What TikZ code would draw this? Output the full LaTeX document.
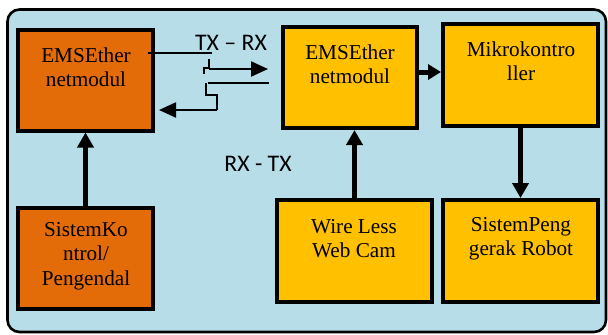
\documentclass[tikz,border=0pt]{standalone}
\usepackage{fontspec}
\setmainfont{Liberation Serif}
\newfontfamily\calibri{Carlito}
\usetikzlibrary{arrows.meta}
\definecolor{panelblue}{HTML}{B7DDE8}
\definecolor{darkorange}{HTML}{E36C09}
\definecolor{ambercol}{HTML}{FFC000}
\tikzset{
    modbox/.style={draw=black, line width=2pt, inner sep=0pt, minimum width=67.5pt, minimum height=50.5pt},
    widebox/.style={modbox, minimum width=77.5pt, minimum height=51pt},
    boxtext/.style={align=center, inner sep=0pt, font=\fontsize{10.6}{12.2}\selectfont},
    lbltext/.style={inner sep=0pt, font=\calibri\fontsize{11.9}{14}\selectfont},
    busarrow/.style={line width=2.5pt, -{Triangle[length=7.5pt, width=8pt]}},
    linkarrow/.style={line width=1.1pt, -{Triangle[length=8.5pt, width=7.5pt]}},
    wire/.style={line width=0.6pt}
}
\begin{document}
\begin{tikzpicture}[x=0.5pt, y=-0.5pt]
        \useasboundingbox (0,0) rectangle (608,334);
        \draw [line width=1.3pt, fill=panelblue, rounded corners=6pt] (7.5,9.5) rectangle (606,332);

        \node [modbox, fill=darkorange] (emsl) at (85.5,80) {};
        \node [modbox, fill=darkorange] (ctrl) at (85.5,258.5) {};
        \node [modbox, fill=ambercol, minimum width=67pt] (emsr) at (350,77.5) {};
        \node [widebox, fill=ambercol] (mcu) at (520.5,75) {};
        \node [widebox, fill=ambercol] (cam) at (354.5,251) {};
        \node [widebox, fill=ambercol] (drive) at (520.5,251) {};

        \node [boxtext] (emsl-t) at (86,67.5) {EMSEther\\netmodul};
        \node [boxtext] (ctrl-t) at (86,256) {SistemKo\\ntrol/\\Pengendal};
        \node [boxtext] (emsr-t) at (350,64.5) {EMSEther\\netmodul};
        \node [boxtext] (mcu-t) at (521,61.5) {Mikrokontro\\ller};
        \node [boxtext] (cam-t) at (354,238.5) {Wire Less\\Web Cam};
        \node [boxtext] (drive-t) at (521,238.5) {SistemPeng\\gerak Robot};

        \node [lbltext] (txrx) at (231,43) {TX – RX};
        \node [lbltext] (rxtx) at (258,164) {RX - TX};

        \draw [busarrow] (ctrl.north) -- (emsl.south);
        \draw [busarrow] (cam.north) -- (cam.north |- emsr.south);
        \draw [busarrow] (mcu.south) -- (drive.north);
        \draw [busarrow, -{Triangle[length=6.5pt, width=7.5pt]}] ([yshift=2.75pt]emsr.east) -- ([yshift=2.75pt]emsr.east -| mcu.west);

        \coordinate (txa) at (148,53);
        \coordinate (txb) at (212,53);
        \coordinate (txc) at (209,69);
        \coordinate (txd) at (268,69);
        \coordinate (rxa) at (208,83);
        \coordinate (rxb) at (269,83);
        \coordinate (rxc) at (217,110);
        \coordinate (rxd) at (159,110);

        \draw [wire] (txa) -- (txb);
        \draw [wire] (204,74) -- (204,68) -- (209,68) -- (209,59);
        \draw [linkarrow] (txc) -- (txd);
        \draw [wire] (rxa) -- (rxb);
        \draw [wire] (206,83) -- (206,95) -- (217,95) -- (rxc);
        \draw [linkarrow] (rxc) -- (rxd);
    \end{tikzpicture}
\end{document}
